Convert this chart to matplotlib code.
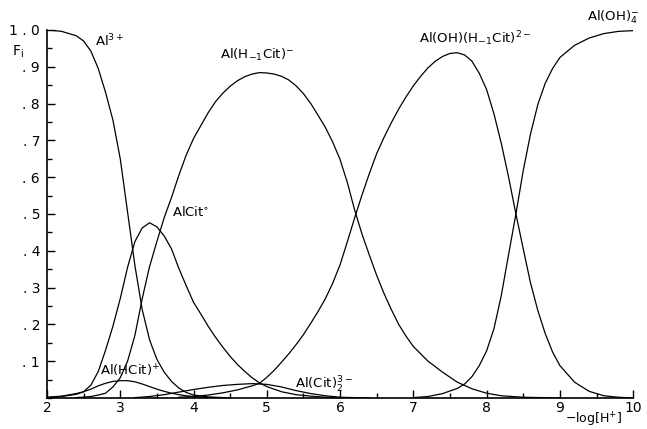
import numpy as np
import matplotlib.pyplot as plt
from matplotlib.ticker import MultipleLocator, FixedLocator, FixedFormatter

# fraction of total aluminium in each species vs -log[H+]
al3_x = [2.0, 2.2, 2.4, 2.5, 2.6, 2.7, 2.8, 2.9, 3.0, 3.1, 3.2, 3.3, 3.4, 3.5,
         3.6, 3.7, 3.8, 3.9, 4.0, 4.2, 4.5]
al3_f = [1.000, 0.996, 0.984, 0.970, 0.942, 0.895, 0.830, 0.755, 0.650, 0.505,
         0.360, 0.240, 0.158, 0.105, 0.070, 0.045, 0.027, 0.015, 0.008, 0.003, 0.0]

alhcit_x = [2.0, 2.2, 2.4, 2.5, 2.6, 2.7, 2.8, 2.9, 3.0, 3.1, 3.2, 3.3, 3.4, 3.5,
            3.6, 3.7, 3.8, 3.9, 4.0, 4.2, 4.4]
alhcit_f = [0.002, 0.005, 0.012, 0.017, 0.024, 0.033, 0.040, 0.045, 0.047, 0.047,
            0.044, 0.038, 0.031, 0.024, 0.018, 0.013, 0.009, 0.006, 0.004, 0.001, 0.0]

alcit_x = [2.0, 2.2, 2.4, 2.5, 2.6, 2.7, 2.8, 2.9, 3.0, 3.1, 3.2, 3.3, 3.4, 3.5,
           3.6, 3.7, 3.8, 3.9, 4.0, 4.1, 4.2, 4.3, 4.4, 4.5, 4.6, 4.7, 4.8, 4.9,
           5.0, 5.2, 5.4, 5.6, 5.8, 6.0]
alcit_f = [0.001, 0.004, 0.010, 0.017, 0.035, 0.072, 0.130, 0.195, 0.270, 0.355,
           0.425, 0.462, 0.476, 0.465, 0.440, 0.405, 0.352, 0.305, 0.260, 0.228,
           0.195, 0.165, 0.138, 0.113, 0.091, 0.072, 0.055, 0.041, 0.031, 0.017,
           0.009, 0.005, 0.002, 0.001]

alh1cit_x = [2.4, 2.6, 2.7, 2.8, 2.9, 3.0, 3.1, 3.2, 3.3, 3.4, 3.5, 3.6, 3.7, 3.8,
             3.9, 4.0, 4.1, 4.2, 4.3, 4.4, 4.5, 4.6, 4.7, 4.8, 4.9, 5.0, 5.1, 5.2,
             5.3, 5.4, 5.5, 5.6, 5.7, 5.8, 5.9, 6.0, 6.1, 6.2, 6.3, 6.4, 6.5, 6.6,
             6.7, 6.8, 6.9, 7.0, 7.2, 7.4, 7.6, 7.8, 8.0, 8.2, 8.5, 9.0]
alh1cit_f = [0.001, 0.004, 0.008, 0.013, 0.030, 0.055, 0.100, 0.170, 0.270, 0.357,
             0.425, 0.490, 0.545, 0.605, 0.660, 0.705, 0.740, 0.775, 0.805, 0.828,
             0.847, 0.862, 0.873, 0.880, 0.884, 0.883, 0.880, 0.874, 0.864, 0.848,
             0.827, 0.800, 0.768, 0.735, 0.695, 0.648, 0.585, 0.510, 0.445, 0.388,
             0.333, 0.284, 0.240, 0.200, 0.168, 0.140, 0.100, 0.070, 0.043, 0.025,
             0.013, 0.006, 0.002, 0.0]

alcit2_x = [3.2, 3.4, 3.6, 3.8, 4.0, 4.2, 4.4, 4.6, 4.8, 5.0, 5.2, 5.4, 5.6, 5.8,
            6.0, 6.2, 6.4]
alcit2_f = [0.001, 0.004, 0.009, 0.016, 0.023, 0.029, 0.034, 0.037, 0.039, 0.037,
            0.030, 0.020, 0.012, 0.006, 0.002, 0.001, 0.0]

aloh_x = [3.8, 4.0, 4.2, 4.4, 4.6, 4.8, 4.9, 5.0, 5.1, 5.2, 5.3, 5.4, 5.5, 5.6,
          5.7, 5.8, 5.9, 6.0, 6.1, 6.2, 6.3, 6.4, 6.5, 6.6, 6.7, 6.8, 6.9, 7.0,
          7.1, 7.2, 7.3, 7.4, 7.5, 7.6, 7.7, 7.8, 7.9, 8.0, 8.1, 8.2, 8.3, 8.4,
          8.5, 8.6, 8.7, 8.8, 8.9, 9.0, 9.2, 9.4, 9.6, 9.8, 10.0]
aloh_f = [0.002, 0.004, 0.008, 0.014, 0.022, 0.033, 0.040, 0.056, 0.075, 0.097,
          0.120, 0.145, 0.172, 0.203, 0.235, 0.270, 0.312, 0.362, 0.425, 0.490,
          0.552, 0.610, 0.664, 0.708, 0.748, 0.785, 0.818, 0.848, 0.874, 0.897,
          0.915, 0.928, 0.936, 0.938, 0.932, 0.915, 0.882, 0.838, 0.772, 0.692,
          0.600, 0.500, 0.405, 0.312, 0.237, 0.175, 0.125, 0.088, 0.043, 0.018,
          0.006, 0.002, 0.0]

aloh4_x = [7.0, 7.2, 7.4, 7.6, 7.7, 7.8, 7.9, 8.0, 8.1, 8.2, 8.3, 8.4, 8.5, 8.6,
           8.7, 8.8, 8.9, 9.0, 9.2, 9.4, 9.6, 9.8, 10.0]
aloh4_f = [0.001, 0.004, 0.012, 0.026, 0.038, 0.058, 0.088, 0.128, 0.188, 0.278,
           0.390, 0.500, 0.618, 0.718, 0.798, 0.855, 0.895, 0.925, 0.958, 0.978,
           0.990, 0.996, 0.998]

series = [(al3_x, al3_f), (alhcit_x, alhcit_f), (alcit_x, alcit_f),
          (alh1cit_x, alh1cit_f), (alcit2_x, alcit2_f), (aloh_x, aloh_f),
          (aloh4_x, aloh4_f)]

y_ticks = [0.1, 0.2, 0.3, 0.4, 0.5, 0.6, 0.7, 0.8, 0.9, 1.0]
y_labels = [". 1", ". 2", ". 3", ". 4", ". 5", ". 6", ". 7", ". 8", ". 9", "1 . 0"]

fig = plt.figure(figsize=(6.47, 4.29), dpi=100)
ax = fig.add_axes([0.0726, 0.0723, 0.906, 0.858])

for xs, fs in series:
    ax.plot(xs, fs, color='black', lw=0.9)

ax.set_xlim(2, 10)
ax.set_ylim(0, 1.0)
ax.spines['top'].set_visible(False)
ax.spines['right'].set_visible(False)
ax.spines['left'].set_linewidth(1.2)
ax.spines['bottom'].set_linewidth(1.2)

ax.xaxis.set_major_locator(MultipleLocator(1))
ax.xaxis.set_minor_locator(MultipleLocator(0.5))
ax.yaxis.set_major_locator(FixedLocator(y_ticks))
ax.yaxis.set_major_formatter(FixedFormatter(y_labels))
ax.yaxis.set_minor_locator(MultipleLocator(0.05))
ax.tick_params(which='major', direction='in', length=6, width=1, labelsize=10)
ax.tick_params(axis='x', which='major', pad=2)
ax.tick_params(axis='y', which='major', pad=5)
ax.tick_params(which='minor', direction='in', length=3.5, width=1)

txt = dict(fontsize=9.5, color='black')
ax.text(2.65, 0.955, 'Al$^{3+}$', **txt)
ax.text(2.72, 0.062, 'Al(HCit)$^{+}$', **txt)
ax.text(3.70, 0.495, 'AlCit$^{\\circ}$', **txt)
ax.text(4.87, 0.92, 'Al(H$_{-1}$Cit)$^{-}$', ha='center', **txt)
ax.text(5.38, 0.025, 'Al(Cit)$_2^{3-}$', **txt)
ax.text(7.85, 0.965, 'Al(OH)(H$_{-1}$Cit)$^{2-}$', ha='center', **txt)
ax.text(9.37, 1.025, 'Al(OH)$_4^{-}$', clip_on=False, **txt)

ax.text(-0.06, 0.94, 'F$_{\\rm i}$', transform=ax.transAxes, fontsize=10, va='center')
ax.text(9.07, -0.06, '$-$log[H$^{+}$]', fontsize=9, va='center', clip_on=False)

fig.savefig('out.png', dpi=100)
